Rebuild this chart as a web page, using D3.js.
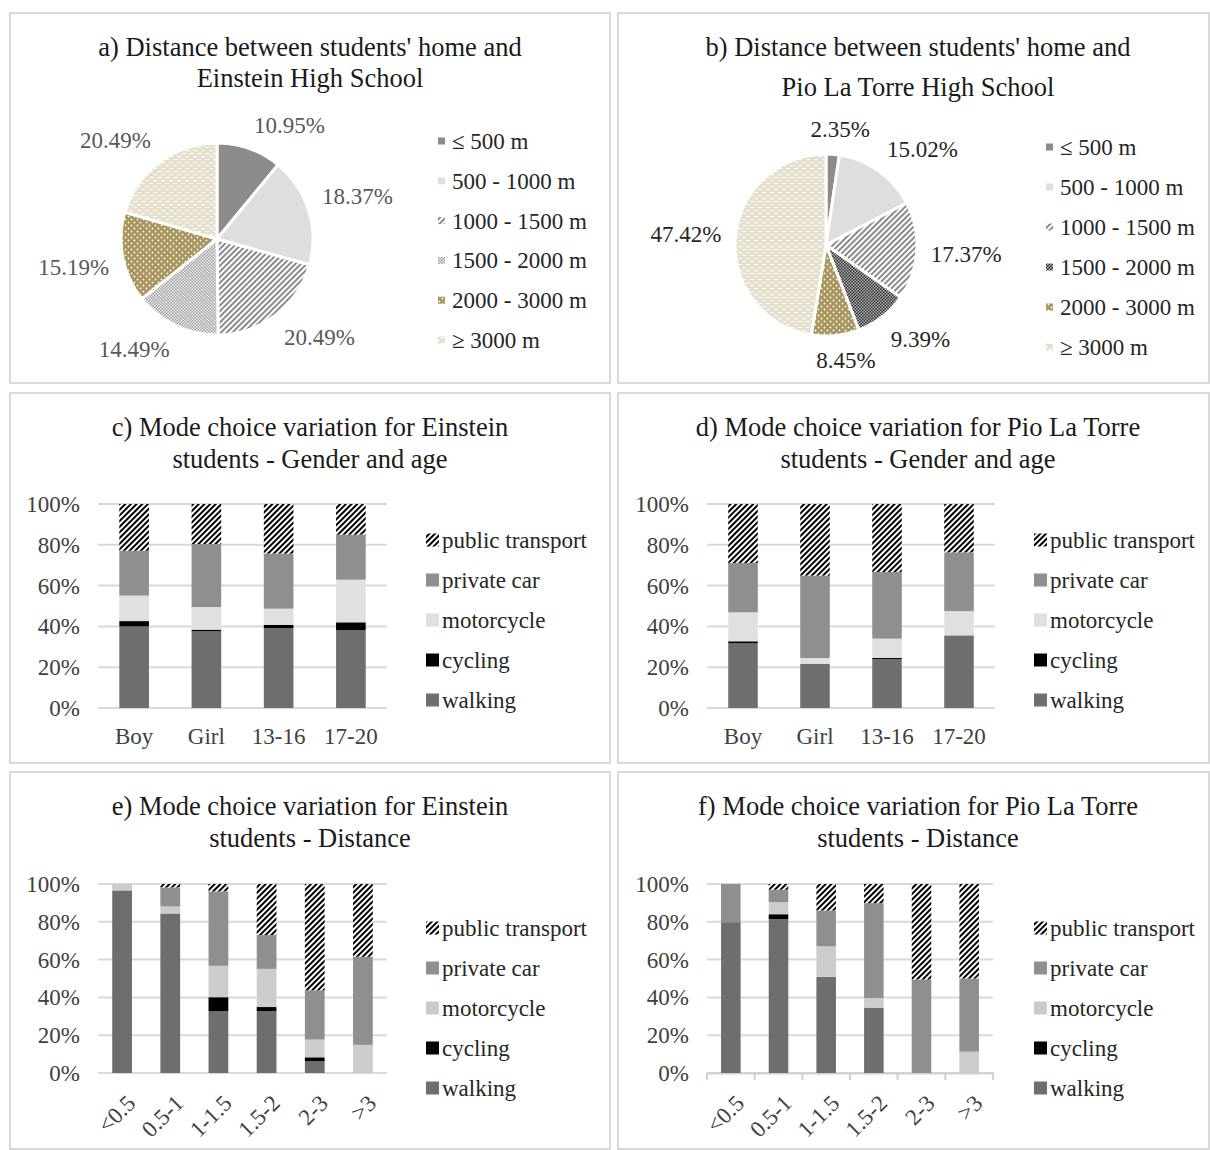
<!DOCTYPE html>
<html><head><meta charset="utf-8">
<script src="https://cdn.jsdelivr.net/npm/d3@7"></script>
<style>
body{margin:0;background:#fff}
text{font-family:"Liberation Serif","Times New Roman",serif}
</style>
</head><body>
<svg id="chart" width="1210" height="1150"></svg>
<script>
// ---------------- DATA ----------------
const distCats = ["≤ 500 m", "500 - 1000 m", "1000 - 1500 m", "1500 - 2000 m", "2000 - 3000 m", "≥ 3000 m"];
const pieEinstein = [10.95, 18.37, 20.49, 14.49, 15.19, 20.49];
const piePioLaTorre = [2.35, 15.02, 17.37, 9.39, 8.45, 47.42];

const modes = ["walking", "cycling", "motorcycle", "private car", "public transport"];
const genderAgeCats = ["Boy", "Girl", "13-16", "17-20"];
const distanceCats = ["<0.5", "0.5-1", "1-1.5", "1.5-2", "2-3", ">3"];
const yTicks = [0, 20, 40, 60, 80, 100];

// rows follow `modes` order (walking, cycling, motorcycle, private car, public transport)
const einsteinGenderAge = [
  [40.0, 37.6, 39.1, 38.2],
  [2.6, 0.8, 1.6, 3.8],
  [12.5, 11.1, 8.0, 20.9],
  [22.0, 30.9, 27.0, 22.1],
  [22.9, 19.6, 24.3, 15.0]
];
const pioGenderAge = [
  [31.7, 21.7, 23.9, 35.6],
  [1.0, 0, 0.6, 0],
  [14.2, 2.8, 9.5, 11.9],
  [24.2, 40.4, 32.7, 28.8],
  [28.9, 35.1, 33.3, 23.7]
];
const einsteinDistance = [
  [96.6, 84.4, 32.8, 32.8, 6.2, 0],
  [0, 0, 7.3, 2.1, 2.1, 0],
  [3.4, 3.7, 16.6, 20.2, 9.4, 14.9],
  [0, 10.1, 39.4, 17.9, 26.1, 46.6],
  [0, 1.8, 3.9, 27.0, 56.2, 38.5]
];
const pioDistance = [
  [79.8, 81.4, 50.9, 34.6, 0, 0],
  [0, 2.6, 0, 0, 0, 0],
  [0, 6.4, 16.1, 5.1, 0, 11.3],
  [20.2, 6.6, 19.0, 50.2, 49.5, 38.7],
  [0, 3.0, 14.0, 10.1, 50.5, 50.0]
];

// ---------------- SETUP ----------------
const FS = 23, TFS = 26.5;
const svg = d3.select("#chart");
const defs = svg.append("defs");

function pat(id, w, h, build, transform) {
  const p = defs.append("pattern").attr("id", id).attr("patternUnits", "userSpaceOnUse")
    .attr("width", w).attr("height", h);
  if (transform) p.attr("patternTransform", transform);
  build(p);
}
pat("ptStripe", 4, 4, p => {
  p.append("rect").attr("width", 4).attr("height", 4).attr("fill", "#fff");
  p.append("rect").attr("width", 2).attr("height", 4).attr("fill", "#000");
}, "rotate(45)");
pat("greyStripe", 4, 4, p => {
  p.append("rect").attr("width", 4).attr("height", 4).attr("fill", "#fff");
  p.append("rect").attr("width", 2).attr("height", 4).attr("fill", "#8a8a8a");
}, "rotate(45)");
pat("checkA", 3, 3, p => {
  p.append("rect").attr("width", 3).attr("height", 3).attr("fill", "#9d9d9d");
  p.append("rect").attr("width", 1.5).attr("height", 1.5).attr("fill", "#f2f2f2");
  p.append("rect").attr("x", 1.5).attr("y", 1.5).attr("width", 1.5).attr("height", 1.5).attr("fill", "#f2f2f2");
});
pat("checkB", 3, 3, p => {
  p.append("rect").attr("width", 3).attr("height", 3).attr("fill", "#2e2e2e");
  p.append("rect").attr("width", 1.5).attr("height", 1.5).attr("fill", "#b5b5b5");
  p.append("rect").attr("x", 1.5).attr("y", 1.5).attr("width", 1.5).attr("height", 1.5).attr("fill", "#b5b5b5");
});
pat("oliveDots", 6, 6, p => {
  p.append("rect").attr("width", 6).attr("height", 6).attr("fill", "#a8955c");
  p.append("circle").attr("cx", 1.5).attr("cy", 1.5).attr("r", 0.9).attr("fill", "#fff");
  p.append("circle").attr("cx", 4.5).attr("cy", 4.5).attr("r", 0.9).attr("fill", "#fff");
});
pat("beigeDash", 8, 6, p => {
  p.append("rect").attr("width", 8).attr("height", 6).attr("fill", "#e6dfcb");
  p.append("rect").attr("x", 0.5).attr("y", 1).attr("width", 3.5).attr("height", 1.2).attr("fill", "#fff");
  p.append("rect").attr("x", 4.5).attr("y", 4).attr("width", 3.5).attr("height", 1.2).attr("fill", "#fff");
});

const pieFillsA = ["#8c8c8c", "#dedede", "url(#greyStripe)", "url(#checkA)", "url(#oliveDots)", "url(#beigeDash)"];
const pieFillsB = ["#8c8c8c", "#dedede", "url(#greyStripe)", "url(#checkB)", "url(#oliveDots)", "url(#beigeDash)"];

const panels = [
  [10, 13, 600, 370], [618, 13, 591, 370],
  [10, 393, 600, 370], [618, 393, 591, 370],
  [10, 772, 600, 377], [618, 772, 591, 377]
];
svg.selectAll("rect.panel").data(panels).join("rect").attr("class", "panel")
  .attr("x", d => d[0]).attr("y", d => d[1]).attr("width", d => d[2]).attr("height", d => d[3])
  .attr("fill", "none").attr("stroke", "#d9d9d9").attr("stroke-width", 2);

function title(lines, cx, ys) {
  lines.forEach((t, i) => {
    svg.append("text").attr("x", cx).attr("y", ys[i]).attr("text-anchor", "middle")
      .attr("dy", "0.35em").attr("font-size", TFS).attr("fill", "#1a1a1a").text(t);
  });
}

// ---------------- PIES ----------------
function drawPie(values, fills, cx, cy, r, labelColor, legendX, legendY0, legendStep) {
  const g = svg.append("g").attr("transform", `translate(${cx},${cy})`);
  const pie = d3.pie().sort(null).value(d => d)(values);
  const arc = d3.arc().innerRadius(0).outerRadius(r);
  g.selectAll("path").data(pie).join("path").attr("d", arc)
    .attr("fill", (d, i) => fills[i]).attr("stroke", "#fff").attr("stroke-width", 3);
  const lr = r + 14;
  g.selectAll("text.lbl").data(pie).join("text").attr("class", "lbl")
    .attr("font-size", FS).attr("fill", labelColor).attr("text-anchor", "middle").attr("dy", "0.35em")
    .text(d => d3.format(".2f")(d.data) + "%")
    .each(function (d) {
      const a = (d.startAngle + d.endAngle) / 2;
      const s = Math.sin(a), c = Math.cos(a);
      const w = this.getComputedTextLength(), h = 22;
      const cl = v => Math.max(-1, Math.min(1, v * 3));
      const x = lr * s + (w / 2) * cl(s);
      const y = -lr * c - (h / 2) * cl(c);
      d3.select(this).attr("x", x).attr("y", y);
    });
  const lg = svg.append("g");
  distCats.forEach((t, i) => {
    const y = legendY0 + i * legendStep;
    lg.append("rect").attr("x", legendX).attr("y", y - 3.5).attr("width", 7).attr("height", 7).attr("fill", fills[i]);
    lg.append("text").attr("x", legendX + 14).attr("y", y).attr("dy", "0.35em")
      .attr("font-size", FS).attr("fill", "#262626").text(t);
  });
}

title(["a) Distance between students' home and", "Einstein High School"], 310, [47, 78]);
drawPie(pieEinstein, pieFillsA, 217, 239, 96, "#595959", 438, 141, 39.8);

title(["b) Distance between students' home and", "Pio La Torre High School"], 918, [47, 87]);
drawPie(piePioLaTorre, pieFillsB, 826, 245, 91, "#262626", 1046, 147, 40);

// ---------------- STACKED BARS ----------------
function drawBars(cats, rows, x0, x1, y0, y1, motoColor, rotated, axisTicks, legendX, legendY0) {
  const x = d3.scaleBand().domain(cats).range([x0, x1]);
  const y = d3.scaleLinear().domain([0, 100]).range([y0, y1]);
  const colors = ["#6e6e6e", "#000000", motoColor, "#8f8f8f", "url(#ptStripe)"];
  const g = svg.append("g");
  g.selectAll("line.grid").data(yTicks).join("line").attr("class", "grid")
    .attr("x1", x0).attr("x2", x1).attr("y1", d => y(d)).attr("y2", d => y(d))
    .attr("stroke", "#d9d9d9").attr("stroke-width", 2);
  if (axisTicks) {
    const ax = g.append("g").attr("transform", `translate(0,${y0})`)
      .call(d3.axisBottom(x).tickValues([]).tickSizeOuter(0));
    ax.select(".domain").attr("stroke", "#d0d0d0").attr("stroke-width", 2);
    const edges = cats.map(c => x(c)).concat([x1]);
    g.selectAll("line.tk").data(edges).join("line").attr("class", "tk")
      .attr("x1", d => d).attr("x2", d => d).attr("y1", y0).attr("y2", y0 + 7)
      .attr("stroke", "#d0d0d0").attr("stroke-width", 2);
  }
  g.selectAll("text.yl").data(yTicks).join("text").attr("class", "yl")
    .attr("x", x0 - 18).attr("y", d => y(d)).attr("dy", "0.35em").attr("text-anchor", "end")
    .attr("font-size", FS).attr("fill", "#404040").text(d => d + "%");
  const table = cats.map((c, j) => {
    const o = { cat: c };
    modes.forEach((m, i) => o[m] = rows[i][j]);
    return o;
  });
  const series = d3.stack().keys(modes)(table);
  const bw = x.bandwidth() * 0.41;
  series.forEach((s, i) => {
    g.selectAll(null).data(s).join("rect")
      .attr("x", d => x(d.data.cat) + x.bandwidth() / 2 - bw / 2)
      .attr("width", bw)
      .attr("y", d => y(d[1]))
      .attr("height", d => Math.max(0, y(d[0]) - y(d[1])))
      .attr("fill", colors[i]);
  });
  if (!rotated) {
    g.selectAll("text.xl").data(cats).join("text").attr("class", "xl")
      .attr("x", d => x(d) + x.bandwidth() / 2).attr("y", y0 + 28).attr("dy", "0.35em")
      .attr("text-anchor", "middle").attr("font-size", FS).attr("fill", "#404040").text(d => d);
  } else {
    g.selectAll("text.xl").data(cats).join("text").attr("class", "xl")
      .attr("transform", d => `translate(${x(d) + x.bandwidth() / 2 + 9},${y0 + 26}) rotate(-45)`)
      .attr("dy", "0.35em").attr("text-anchor", "end").attr("font-size", FS).attr("fill", "#404040").text(d => d);
  }
  const order = modes.slice().reverse();
  order.forEach((m, k) => {
    const i = modes.indexOf(m);
    const yy = legendY0 + k * 40;
    g.append("rect").attr("x", legendX).attr("y", yy - 6.5).attr("width", 13).attr("height", 13).attr("fill", colors[i]);
    g.append("text").attr("x", legendX + 16).attr("y", yy).attr("dy", "0.35em")
      .attr("font-size", FS).attr("fill", "#262626").text(m);
  });
}

title(["c) Mode choice variation for Einstein", "students - Gender and age"], 310, [427, 459]);
drawBars(genderAgeCats, einsteinGenderAge, 98, 387, 708, 504, "#e0e0e0", false, false, 426, 540);

title(["d) Mode choice variation for Pio La Torre", "students - Gender and age"], 918, [427, 459]);
drawBars(genderAgeCats, pioGenderAge, 707, 995, 708, 504, "#e0e0e0", false, false, 1034, 540);

title(["e) Mode choice variation for Einstein", "students - Distance"], 310, [806, 838]);
drawBars(distanceCats, einsteinDistance, 98, 387, 1073, 884, "#cccccc", true, false, 426, 928);

title(["f) Mode choice variation for Pio La Torre", "students - Distance"], 918, [806, 838]);
drawBars(distanceCats, pioDistance, 707, 993, 1073, 884, "#cccccc", true, true, 1034, 928);
</script>
</body></html>
